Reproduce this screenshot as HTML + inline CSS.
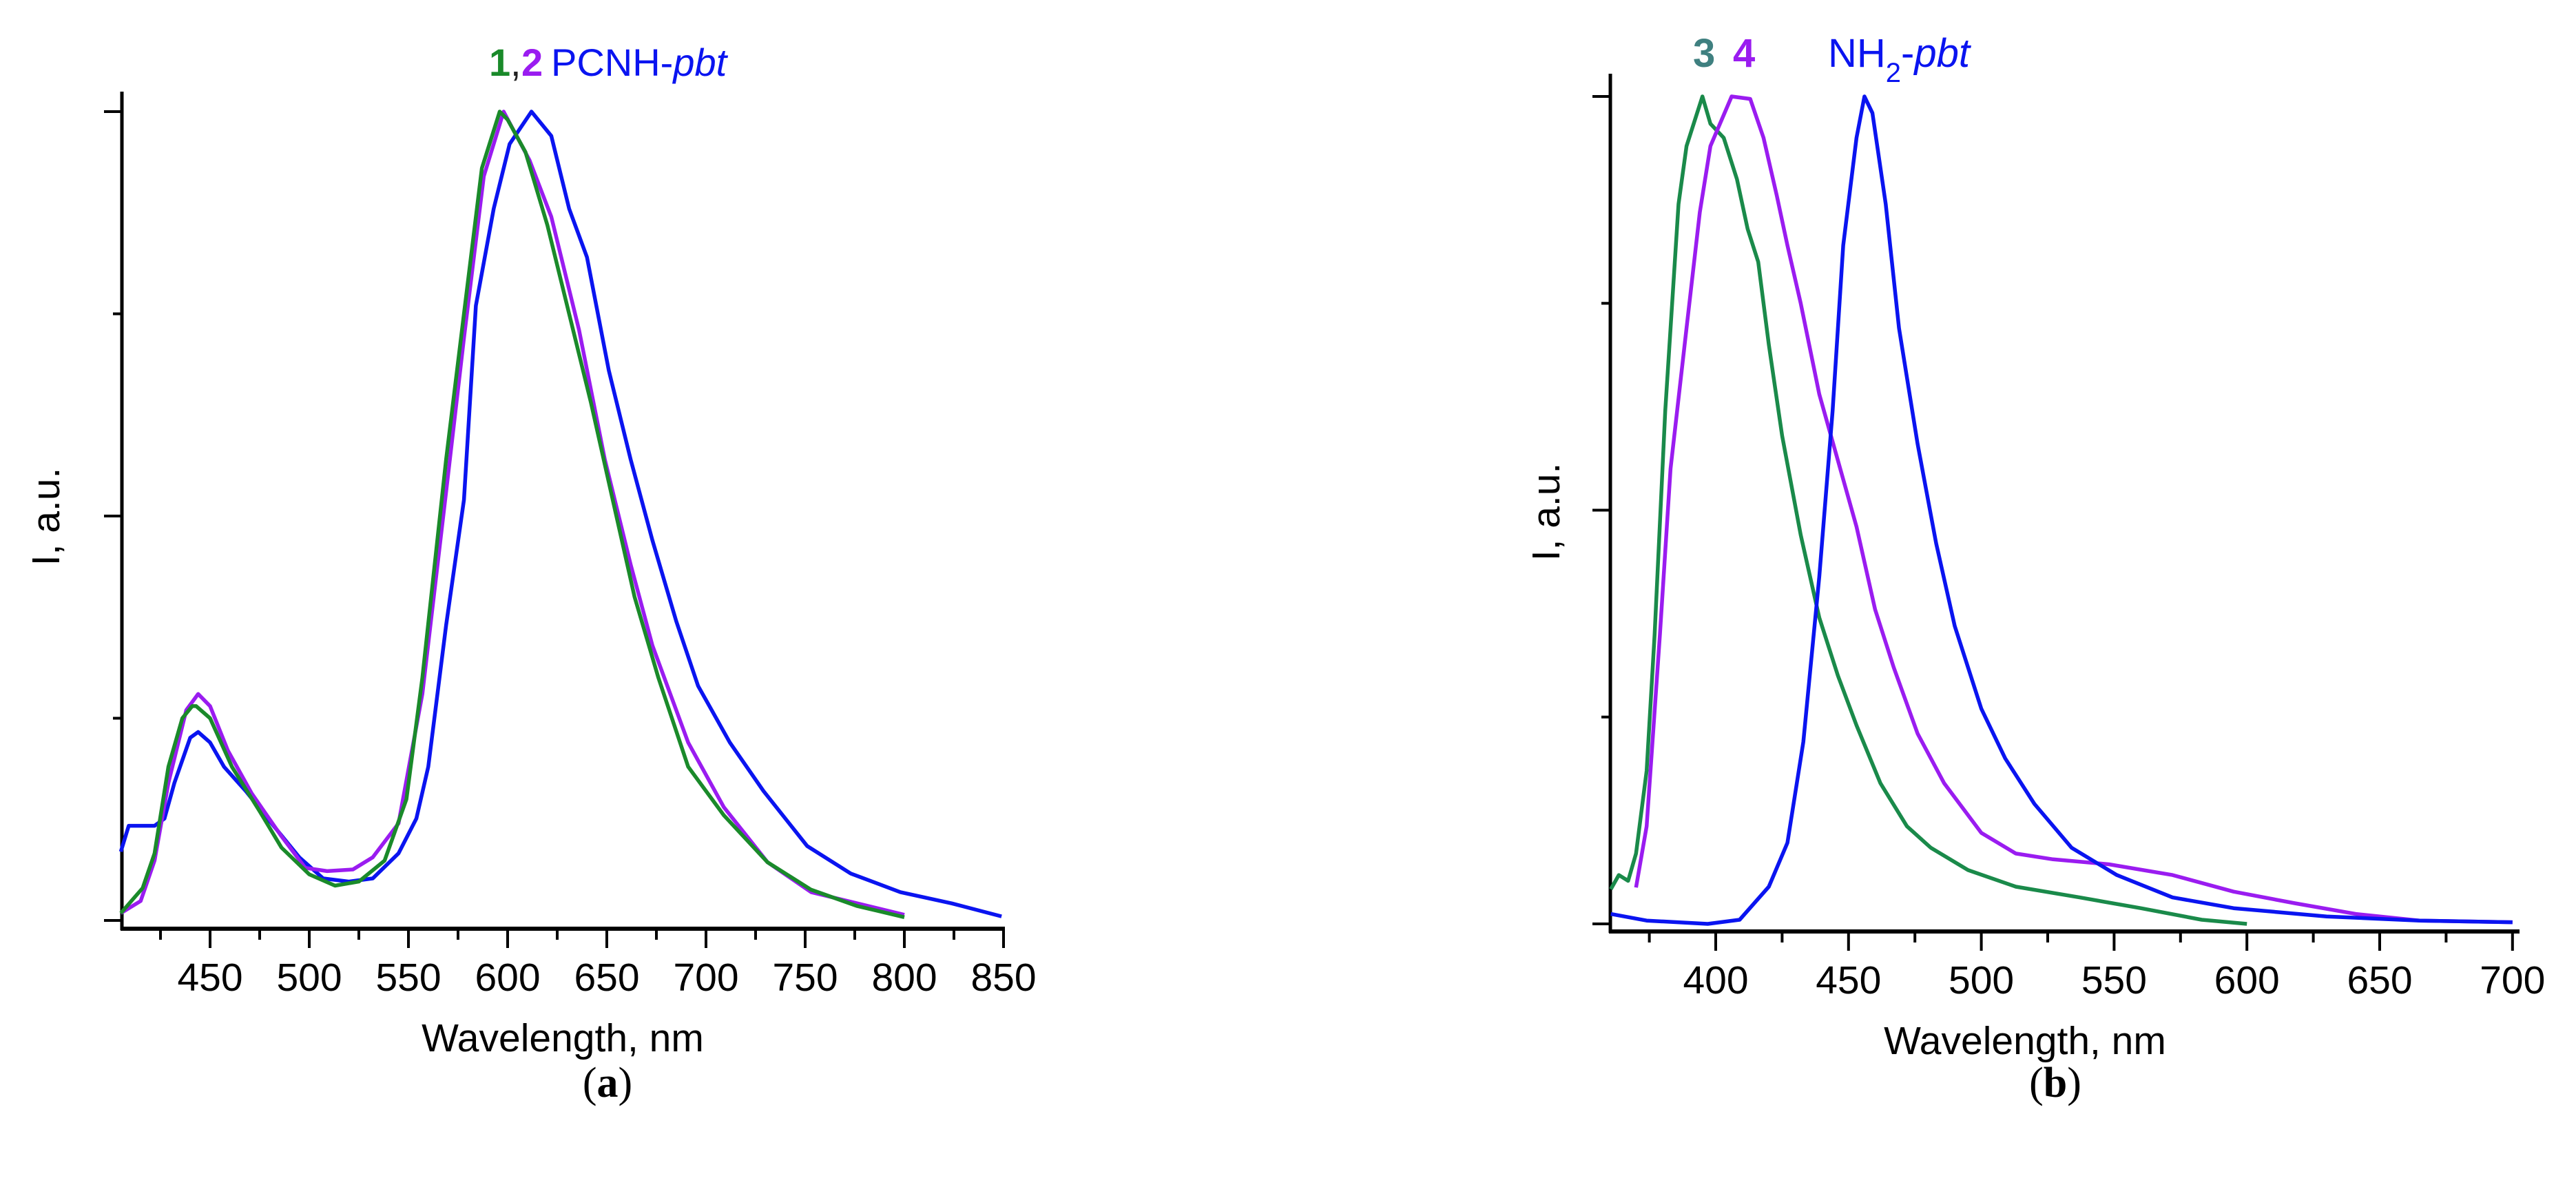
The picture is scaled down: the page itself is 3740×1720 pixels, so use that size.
<!DOCTYPE html>
<html><head><meta charset="utf-8"><style>
html,body{margin:0;padding:0;background:#fff;}
svg{display:block;font-family:"Liberation Sans",Arial,sans-serif;}
</style></head><body>
<svg id="fig" width="3740" height="1720" viewBox="0 0 3740 1720" xmlns="http://www.w3.org/2000/svg">
<rect width="3740" height="1720" fill="#fff"/>
<g id="pa"></g>
<g id="pb"></g>
<text x="710" y="110" font-size="56" font-weight="bold" fill="#1a8a2a">1</text>
<text x="741" y="110" font-size="56" fill="#222">,</text>
<text x="757" y="110" font-size="56" font-weight="bold" fill="#9a1cf0">2</text>
<text x="800" y="110" font-size="56" fill="#0a14f0">PCNH-<tspan font-style="italic">pbt</tspan></text>
<text x="2458" y="97" font-size="58" font-weight="bold" fill="#3f8080">3</text>
<text x="2516" y="97" font-size="58" font-weight="bold" fill="#9a1cf0">4</text>
<text x="2654" y="97" font-size="58" fill="#0a14f0">NH<tspan font-size="40" dy="22">2</tspan><tspan dy="-22">-</tspan><tspan font-style="italic">pbt</tspan></text>
<text x="882" y="1592" font-size="62" text-anchor="middle" font-family="Liberation Serif, serif">(<tspan font-weight="bold">a</tspan>)</text>
<text x="2984" y="1592" font-size="62" text-anchor="middle" font-family="Liberation Serif, serif">(<tspan font-weight="bold">b</tspan>)</text>
</svg>
<script>
// Panel a data (wavelength nm, normalized intensity)
const aGreenX=[405,411,416,422,429,436,441,443,450,461,475,486,500,513,525,538,549,557,569,578,587,596,600,609,620,631,642,653,664,676,691,709,731,753,776,800];
const aGreenY=[0.009,0.026,0.04,0.083,0.19,0.25,0.265,0.265,0.25,0.19,0.135,0.09,0.057,0.043,0.048,0.074,0.15,0.3,0.57,0.75,0.93,1.0,0.99,0.95,0.86,0.75,0.64,0.52,0.40,0.30,0.19,0.13,0.072,0.038,0.018,0.004];
const aPurpleX=[405,415,422,429,438,444,450,459,471,486,498,509,522,532,545,557,569,578,588,598,611,622,636,649,662,673,691,709,731,753,800];
const aPurpleY=[0.009,0.024,0.074,0.17,0.26,0.28,0.265,0.21,0.157,0.104,0.065,0.061,0.063,0.078,0.12,0.28,0.53,0.72,0.92,1.0,0.94,0.87,0.73,0.57,0.44,0.34,0.22,0.14,0.072,0.035,0.007];
const aBlueX=[405,409,415,422,427,432,440,444,450,457,468,482,495,507,520,532,545,554,560,569,578,584,593,601,612,622,631,640,651,662,673,685,696,712,729,751,773,798,824,849];
const aBlueY=[0.085,0.117,0.117,0.117,0.126,0.17,0.226,0.233,0.22,0.19,0.16,0.117,0.078,0.052,0.048,0.052,0.083,0.126,0.19,0.365,0.52,0.76,0.88,0.96,1.0,0.97,0.88,0.82,0.68,0.57,0.47,0.37,0.29,0.22,0.16,0.092,0.058,0.035,0.021,0.005];
const aTicks=[450,500,550,600,650,700,750,800,850];
// Panel b data
const bGreenX=[360.5,363.5,367,370,374,377,381,386,389,393,395,398,403,408,412,416,420,425,432,439,446,453,462,472,481,495,513,537,560,583,600];
const bGreenY=[0.042,0.059,0.052,0.085,0.185,0.35,0.62,0.87,0.94,0.98,1.0,0.967,0.95,0.90,0.84,0.80,0.70,0.59,0.47,0.37,0.30,0.24,0.17,0.118,0.092,0.065,0.045,0.032,0.019,0.005,0.0];
const bPurpleX=[370,374,379,383,389,394,398,406,413,418,423,427,432,439,446,453,460,467,476,486,500,513,527,548,572,595,618,641,665,700];
const bPurpleY=[0.044,0.118,0.35,0.55,0.72,0.86,0.94,1.0,0.997,0.95,0.88,0.82,0.75,0.64,0.56,0.48,0.38,0.31,0.23,0.17,0.11,0.085,0.078,0.072,0.059,0.039,0.025,0.012,0.004,0.002];
const bBlueX=[360.5,374,397,409,420,427,433,439,444,448,453,456,459,464,469,476,483,490,500,509,520,534,551,572,595,630,665,700];
const bBlueY=[0.012,0.004,0.0,0.005,0.045,0.098,0.22,0.42,0.62,0.82,0.95,1.0,0.98,0.87,0.72,0.58,0.46,0.36,0.26,0.20,0.145,0.092,0.059,0.032,0.019,0.009,0.004,0.002];
const bTicks=[400,450,500,550,600,650,700];

const NS="http://www.w3.org/2000/svg";
function mk(parent,tag,attrs){const e=document.createElementNS(NS,tag);for(const k in attrs)e.setAttribute(k,attrs[k]);parent.appendChild(e);return e;}

function panel(g,cfg){
  const sx=v=>cfg.x0+(v-cfg.v0)*cfg.kx;
  const sy=v=>cfg.yZero-(v)*(cfg.yZero-cfg.yOne);
  const ya=mk(g,'line',{x1:cfg.axX,y1:cfg.axTop,x2:cfg.axX,y2:cfg.axY+2,stroke:'#000','stroke-width':5});
  
  
  const xa=mk(g,'line',{x1:cfg.axX-2,y1:cfg.axY,x2:cfg.axRight,y2:cfg.axY,stroke:'#000','stroke-width':6});
  
  
  for(let i=0;i<=4;i++){
    const y=cfg.yZero-(cfg.yZero-cfg.yOne)*i/4;
    const len=(i%2===0)?26:13;
    const t=mk(g,'line',{x1:cfg.axX-len,y1:y,x2:cfg.axX,y2:y,stroke:'#000','stroke-width':4});
    
    
  }
  const step=cfg.ticks[1]-cfg.ticks[0];
  for(let v=cfg.ticks[0]-step/2;v<=cfg.ticks[cfg.ticks.length-1]+0.1;v+=step/2){
    const x=sx(v); if(x<cfg.axX+5)continue;
    const major=Math.abs((v-cfg.ticks[0])%step)<0.01;
    const t=mk(g,'line',{x1:x,y1:cfg.axY,x2:x,y2:cfg.axY+(major?28:16),stroke:'#000','stroke-width':4});
    
    
  }
  cfg.ticks.forEach(v=>{
    const t=mk(g,'text',{x:sx(v),y:cfg.axY+90,'font-size':57,'text-anchor':'middle',fill:'#000'});
    t.textContent=v;
    
    
  });
  const xt=mk(g,'text',{x:cfg.xTitleX,y:cfg.axY+178,'font-size':57,'text-anchor':'middle',fill:'#000'});
  xt.textContent='Wavelength, nm';
  
  
  const yt=mk(g,'text',{x:0,y:0,'font-size':57,'text-anchor':'middle',fill:'#000',transform:`translate(${cfg.yTitleX},${cfg.yTitleY}) rotate(-90)`});
  yt.textContent='I, a.u.';
  
  
  cfg.series.forEach(s=>{
    const d=s.x.map((v,i)=>(i?'L':'M')+sx(v).toFixed(1)+','+sy(s.y[i]).toFixed(1)).join(' ');
    const p=mk(g,'path',{d:d,fill:'none',stroke:s.c,'stroke-width':5.5,'stroke-linejoin':'round'});
    
    
  });
}
panel(document.getElementById('pa'),{x0:305,v0:450,kx:144/50,yZero:1336,yOne:162,axX:177,axTop:133,axY:1348,axRight:1459,ticks:aTicks,xTitleX:817,yTitleX:86,yTitleY:750,
  series:[{x:aBlueX,y:aBlueY,c:'#0a14f0',name:'series-pcnh-pbt'},{x:aPurpleX,y:aPurpleY,c:'#9a1cf0',name:'series-2'},{x:aGreenX,y:aGreenY,c:'#1a8a2a',name:'series-1'}]});
panel(document.getElementById('pb'),{x0:2491,v0:400,kx:192.8/50,yZero:1341,yOne:140,axX:2338,axTop:107,axY:1352,axRight:3658,ticks:bTicks,xTitleX:2940,yTitleX:2264,yTitleY:743,
  series:[{x:bGreenX,y:bGreenY,c:'#1a8a4a',name:'series-3'},{x:bPurpleX,y:bPurpleY,c:'#9a1cf0',name:'series-4'},{x:bBlueX,y:bBlueY,c:'#0a14f0',name:'series-nh2-pbt'}]});
</script>
</body></html>
